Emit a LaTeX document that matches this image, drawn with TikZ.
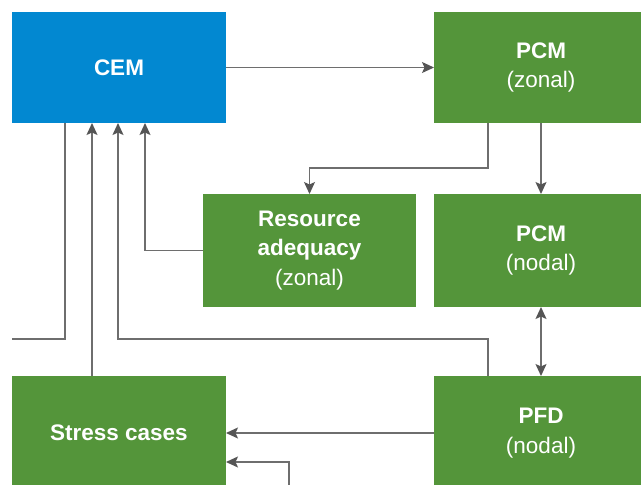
\documentclass[tikz,border=0pt]{standalone}
\usepackage{fontspec}
\setmainfont{Liberation Sans}
\usetikzlibrary{arrows.meta,calc}
\definecolor{cemblue}{RGB}{2,136,209}
\definecolor{modgreen}{RGB}{84,149,58}
\definecolor{linegray}{RGB}{110,110,110}
\definecolor{tipgray}{RGB}{85,85,85}
\tikzset{
  box/.style={inner sep=0pt, outer sep=0pt, text=white, align=center,
    minimum width=214pt, minimum height=112pt, anchor=north west,
    font=\fontsize{22.5}{29.5}\selectfont},
  cembox/.style={box, fill=cemblue},
  modbox/.style={box, fill=modgreen},
  link/.style={draw=linegray, line width=1.4pt},
  tip/.tip={Stealth[length=12pt,width=11pt,inset=2.5pt,color=tipgray]},
  arr/.style={link, -tip},
  darr/.style={link, tip-tip},
}
\begin{document}
\begin{tikzpicture}[x=1pt,y=-1pt]
\useasboundingbox (0,0) rectangle (641,485);
\fill[white] (0,0) rectangle (641,485);

% model blocks
\node[cembox, minimum height=111pt] (cem) at (12,12) {\textbf{CEM}};
\node[modbox, minimum height=111pt] (pcmz) at (434,12) {\textbf{PCM}\\(zonal)};
\node[modbox, minimum width=213pt, minimum height=113pt] (ra) at (203,194) {\textbf{Resource}\\\textbf{adequacy}\\(zonal)};
\node[modbox, minimum height=113pt] (pcmn) at (434,194) {\textbf{PCM}\\(nodal)};
\node[modbox, minimum height=114pt] (stress) at (12,376) {\textbf{Stress cases}};
\node[modbox, minimum height=114pt] (pfd) at (434,376) {\textbf{PFD}\\(nodal)};

% loose ends of the feedback lines
\coordinate (leftend) at (12,339);
\coordinate (bottomend) at (289,485);

% data flow between the models
\draw[arr] (cem.east) -- (pcmz.west);
\draw[arr] (pcmz.south) -- (pcmn.north);
\draw[arr] ($(pcmz.south west)+(54,0)$) -- ++(0,45) -| (ra.north);
\draw[arr] (ra.west) -| ($(cem.south west)+(133,0)$);
\draw[link] ($(cem.south west)+(53,0)$) |- (leftend);
\draw[arr] ($(pfd.north west)+(54,0)$) -- ++(0,-37) -| ($(cem.south west)+(106,0)$);
\draw[arr] ($(stress.north west)+(80,0)$) -- ($(cem.south west)+(80,0)$);
\draw[arr] (pfd.west |- 0,433) -- (stress.east |- 0,433);
\draw[arr] (bottomend) |- (stress.east |- 0,462);
\draw[darr] (pcmn.south) -- (pfd.north);
\end{tikzpicture}
\end{document}
